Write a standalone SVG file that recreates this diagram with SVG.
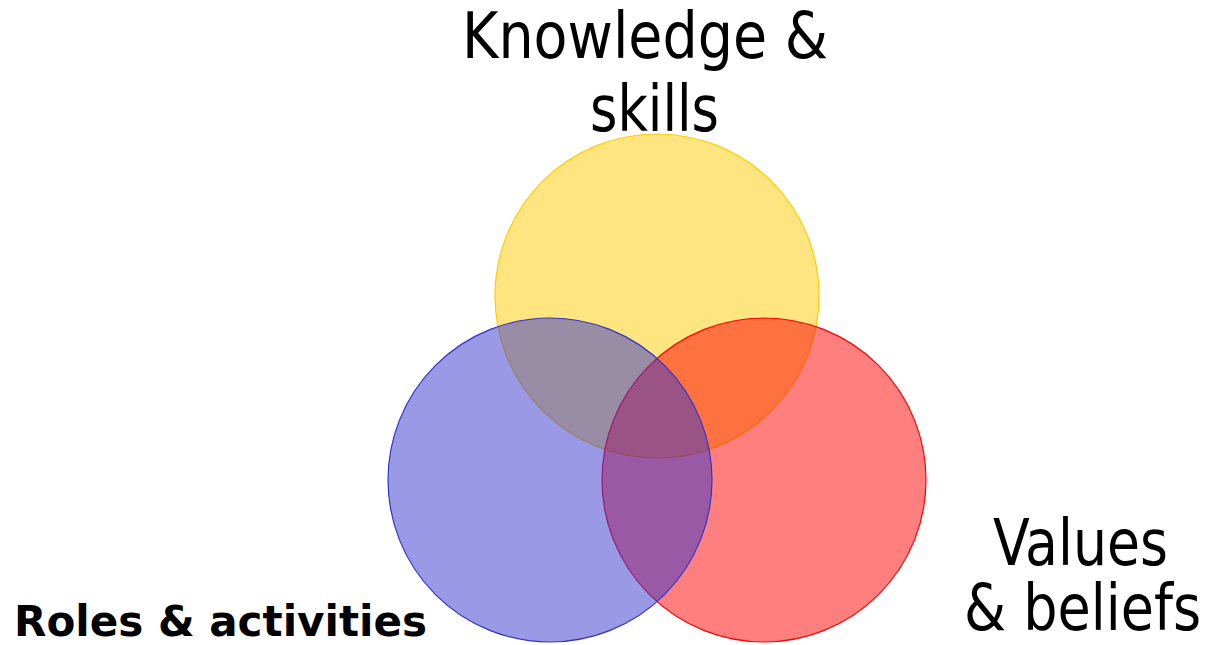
<svg xmlns="http://www.w3.org/2000/svg" width="1210" height="645" viewBox="0 0 1210 645">
  <style>
    .lbl { font-family: "DejaVu Sans Condensed", "DejaVu Sans", sans-serif; font-size: 64px; fill: #000; }
    .bold { font-family: "DejaVu Sans", sans-serif; font-size: 42px; font-weight: bold; fill: #000; }
    .c { fill-opacity: 0.5; stroke-width: 1.2; }
  </style>
  <rect width="1210" height="645" fill="#fff"/>
  <g id="knowledge">
    <circle class="c" cx="657" cy="296" r="162" fill="#FFCC00" stroke="#FFCC00"/>
    <text class="lbl"><tspan x="462" y="58" textLength="366" lengthAdjust="spacingAndGlyphs">Knowledge &amp;</tspan><tspan x="590" y="131" textLength="129" lengthAdjust="spacingAndGlyphs">skills</tspan></text>
  </g>
  <g id="values">
    <circle class="c" cx="764" cy="480" r="162" fill="#FF0000" stroke="#FF0000"/>
    <text class="lbl" font-size="62"><tspan x="993" y="565" textLength="175" lengthAdjust="spacingAndGlyphs">Values</tspan><tspan x="964" y="630" textLength="237" lengthAdjust="spacingAndGlyphs">&amp; beliefs</tspan></text>
  </g>
  <g id="roles">
    <circle class="c" cx="550" cy="480" r="162" fill="#3333CC" stroke="#3333CC"/>
    <text class="bold" x="14" y="636" textLength="413" lengthAdjust="spacingAndGlyphs">Roles &amp; activities</text>
  </g>
  <g id="connectors"/>
</svg>
